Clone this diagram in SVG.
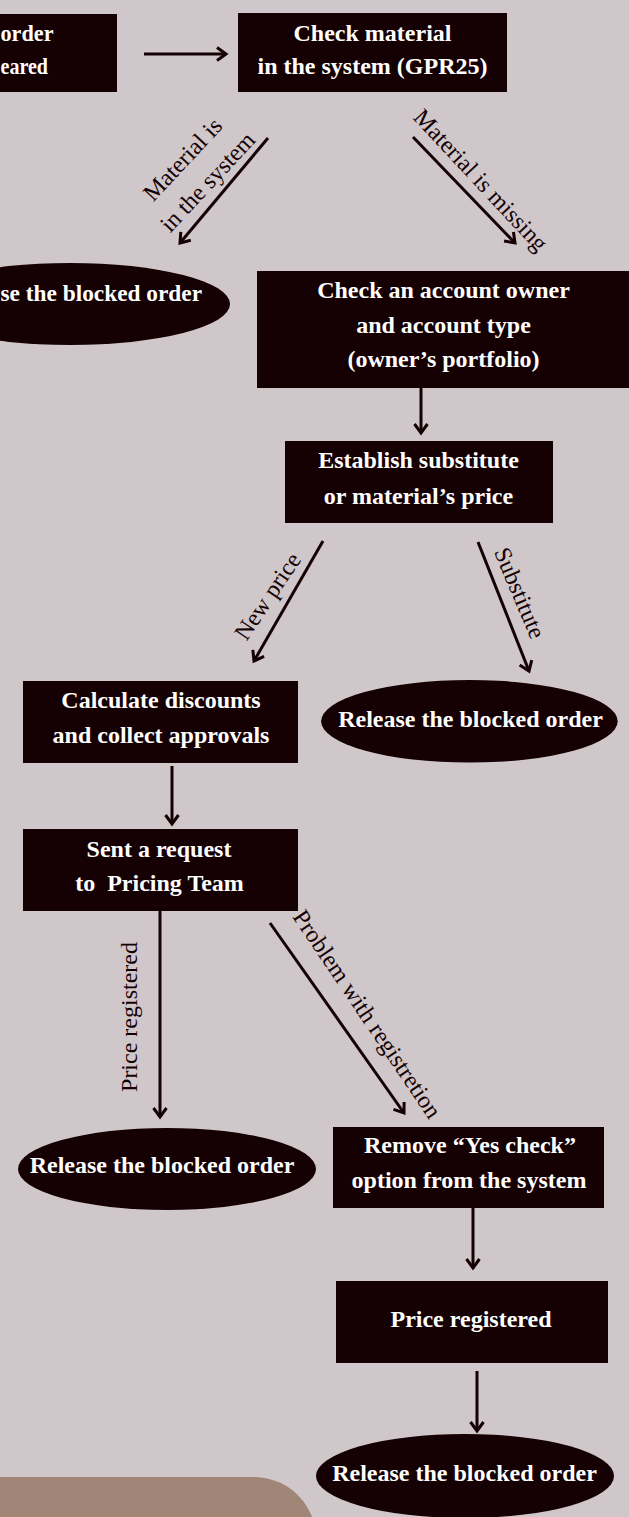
<svg xmlns="http://www.w3.org/2000/svg" width="629" height="1517" viewBox="0 0 629 1517">
  <defs>
    <style>
      .box { fill: #150103; }
      .t { font-family: "Liberation Serif", "Times New Roman", serif; font-weight: bold; font-size: 24px; fill: #ffffff; text-anchor: middle; white-space: pre; }
      .ts { font-family: "Liberation Serif", "Times New Roman", serif; font-weight: bold; font-size: 24px; fill: #ffffff; text-anchor: start; }
      .lbl { font-family: "Liberation Serif", "Times New Roman", serif; font-size: 24px; fill: #150103; text-anchor: middle; }
      .edge { stroke: #150103; stroke-width: 3; fill: none; marker-end: url(#head); }
    </style>
    <marker id="head" markerUnits="userSpaceOnUse" viewBox="-13 -9 16 18" markerWidth="16" markerHeight="18" refX="0" refY="0" orient="auto" overflow="visible">
      <path d="M-9,-6.5 L0,0 L-9,6.5" fill="none" stroke="#150103" stroke-width="3" stroke-linejoin="miter"/>
    </marker>
  </defs>

  <!-- page background -->
  <rect x="0" y="0" width="629" height="1517" fill="#d0c7ca"/>

  <!-- decorative panel, bottom left -->
  <path d="M0,1477 H252 C282,1477 303,1494 312,1517 H0 Z" fill="#a08676"/>

  <!-- connectors -->
  <g id="connectors">
    <line class="edge" x1="144" y1="54" x2="226" y2="54"/>
    <line class="edge" x1="268" y1="138" x2="180" y2="243"/>
    <line class="edge" x1="413" y1="137" x2="515" y2="243"/>
    <line class="edge" x1="421" y1="388" x2="421" y2="433"/>
    <line class="edge" x1="323" y1="541" x2="254" y2="661"/>
    <line class="edge" x1="478" y1="542" x2="529" y2="671"/>
    <line class="edge" x1="172" y1="766" x2="172" y2="824"/>
    <line class="edge" x1="160" y1="911" x2="160" y2="1117"/>
    <line class="edge" x1="270" y1="923" x2="404" y2="1113"/>
    <line class="edge" x1="473" y1="1208" x2="473" y2="1268"/>
    <line class="edge" x1="477" y1="1371" x2="477" y2="1431"/>

    <!-- connector labels -->
    <g transform="translate(188.4,164.8) rotate(-47)"><text class="lbl" x="0" y="0">Material is</text></g>
    <g transform="translate(213.4,187.3) rotate(-47)"><text class="lbl" x="0" y="0">in the system</text></g>
    <g transform="translate(475,185.5) rotate(47)"><text class="lbl" x="0" y="0">Material is missing</text></g>
    <g transform="translate(274.2,600.7) rotate(-56)"><text class="lbl" x="0" y="0">New price</text></g>
    <g transform="translate(512.4,596) rotate(67)"><text class="lbl" x="0" y="0">Substitute</text></g>
    <g transform="translate(136.5,1017) rotate(-90)"><text class="lbl" x="0" y="0">Price registered</text></g>
    <g transform="translate(360.7,1018.5) rotate(56)"><text class="lbl" x="0" y="0">Problem with registretion</text></g>
  </g>

  <g id="order-appeared">
    <rect class="box" x="-10" y="14" width="127" height="78"/>
    <text class="ts" x="0.5" y="41" textLength="53" lengthAdjust="spacingAndGlyphs">order</text>
    <text class="ts" x="0.5" y="74" textLength="47.5" lengthAdjust="spacingAndGlyphs">eared</text>
  </g>

  <g id="check-material">
    <rect class="box" x="238" y="13" width="269" height="79"/>
    <text class="t" x="372.5" y="41">Check material</text>
    <text class="t" x="372.5" y="74">in the system (GPR25)</text>
  </g>

  <g id="release-1">
    <ellipse class="box" cx="70" cy="304" rx="160" ry="41"/>
    <text class="ts" x="0.5" y="301" textLength="201.5" lengthAdjust="spacingAndGlyphs">se the blocked order</text>
  </g>

  <g id="check-account">
    <rect class="box" x="257" y="271" width="380" height="117"/>
    <text class="t" x="443.5" y="298">Check an account owner</text>
    <text class="t" x="443.5" y="333">and account type</text>
    <text class="t" x="443.5" y="367">(owner’s portfolio)</text>
  </g>

  <g id="establish">
    <rect class="box" x="285" y="441" width="268" height="82"/>
    <text class="t" x="418.5" y="468">Establish substitute</text>
    <text class="t" x="418.5" y="504">or material’s price</text>
  </g>

  <g id="calculate">
    <rect class="box" x="23" y="681" width="275" height="82"/>
    <text class="t" x="161" y="708">Calculate discounts</text>
    <text class="t" x="161" y="743">and collect approvals</text>
  </g>

  <g id="release-2">
    <ellipse class="box" cx="469.4" cy="721.3" rx="148.3" ry="41.3"/>
    <text class="t" x="470.5" y="727">Release the blocked order</text>
  </g>

  <g id="send-request">
    <rect class="box" x="23" y="829" width="275" height="82"/>
    <text class="t" x="159" y="857">Sent a request</text>
    <text class="t" x="159.5" y="891">to  Pricing Team</text>
  </g>

  <g id="release-3">
    <ellipse class="box" cx="167" cy="1169" rx="149" ry="41"/>
    <text class="t" x="162" y="1173">Release the blocked order</text>
  </g>

  <g id="remove-yes-check">
    <rect class="box" x="333" y="1127" width="271" height="81"/>
    <text class="t" x="470" y="1153">Remove “Yes check”</text>
    <text class="t" x="469" y="1188">option from the system</text>
  </g>

  <g id="price-registered">
    <rect class="box" x="336" y="1281" width="272" height="82"/>
    <text class="t" x="471" y="1327">Price registered</text>
  </g>

  <g id="release-4">
    <ellipse class="box" cx="465" cy="1476" rx="149" ry="42"/>
    <text class="t" x="464.5" y="1481">Release the blocked order</text>
  </g>
</svg>
